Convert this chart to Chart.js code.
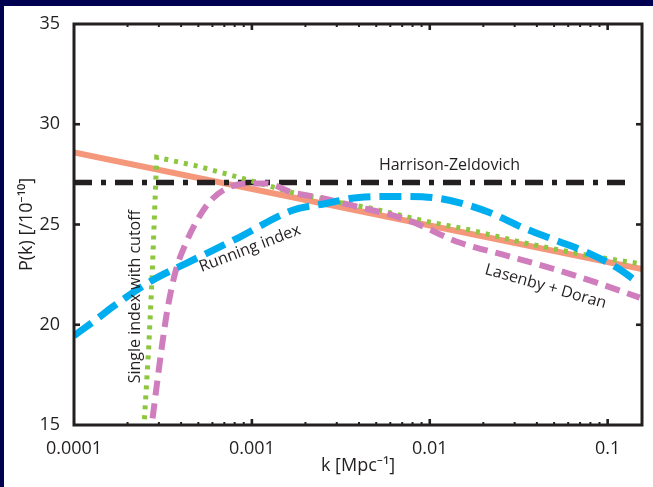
<!DOCTYPE html>
<html><head><meta charset="utf-8">
<script src="https://cdn.jsdelivr.net/npm/chart.js@4/dist/chart.umd.min.js"></script>
<style>html,body{margin:0;padding:0;background:#000050;overflow:hidden}canvas{display:block}</style>
</head><body>
<canvas id="c" width="653" height="487"></canvas>
<script>
// ---- data (k in Mpc^-1, P in 1e-10) ----
const kHZ = [1e-4, 0.14];
const pHZ = [27.1, 27.1];

const kTilt = [1e-4, 0.156];
const pTilt = [28.6, 22.78];

const kCutoff = [2.399e-4, 2.477e-4, 2.63e-4, 2.742e-4, 2.917e-4, 5.012e-4, 8.453e-4, 1.679e-3, 3.097e-3, 4.742e-3, 9.078e-3, 1.738e-2, 3.319e-2, 6.353e-2, 9.863e-2, 0.1514];
const pCutoff = [14.3, 15.0, 18.85, 22.2, 28.35, 27.9, 27.35, 26.6, 26.1, 25.8, 25.2, 24.7, 24.1, 23.6, 23.3, 23.05];

const kLD = [2.661e-4, 2.735e-4, 2.917e-4, 3.112e-4, 3.365e-4, 3.733e-4, 4.198e-4, 4.842e-4, 5.875e-4, 7.413e-4, 9.616e-4, 1.2e-3, 1.679e-3, 2.382e-3, 3.656e-3, 7.362e-3, 1.469e-2, 2.698e-2, 4.898e-2, 8.67e-2, 0.1514];
const pLD = [14.2, 15.0, 16.95, 18.85, 20.85, 22.7, 23.95, 25.1, 26.2, 26.85, 27.05, 27.05, 26.6, 26.35, 25.95, 25.25, 24.1, 23.45, 22.8, 22.1, 21.35];

const kRun = [1.0e-4, 1.374e-4, 1.626e-4, 2.735e-4, 4.246e-4, 8.45e-4, 1.679e-3, 2.612e-3, 4.009e-3, 6.76e-3, 1.132e-2, 2.168e-2, 3.319e-2, 5.164e-2, 7.925e-2, 0.1125, 0.1514];
const pRun = [19.45, 20.35, 20.85, 22.2, 23.05, 24.35, 25.7, 26.05, 26.35, 26.4, 26.3, 25.6, 24.85, 24.2, 23.55, 22.85, 22.05];

const xTickValues = [1e-4, 1e-3, 1e-2, 1e-1];
const xTickLabels = ['0.0001', '0.001', '0.01', '0.1'];
const yTickValues = [15, 20, 25, 30, 35];
const yTickLabels = ['15', '20', '25', '30', '35'];

const curveLabelText = ['Harrison-Zeldovich', 'Running index', 'Lasenby + Doran', 'Single index with cutoff'];
// annotation placement (data coords) and rotation
const curveLabelPlace = [
  {k: 0.0129, p: 27.95, angle: 0},
  {k: 9.75e-4, p: 23.8, angle: -21},
  {k: 0.0448, p: 21.9, angle: 16},
  {k: 2.22e-4, p: 21.4, angle: -90}
];

// ---- styles ----
const ink = '#231f20';
const FAM = "'Open Sans', 'Noto Sans', 'DejaVu Sans', sans-serif";
const pts = (ks, ps) => ks.map((k, i) => ({x: k, y: ps[i]}));

const framePlugin = {
  id: 'frame',
  beforeDraw(chart) {
    const {ctx, width, height} = chart;
    ctx.save();
    ctx.fillStyle = '#000050';
    ctx.fillRect(0, 0, width, height);
    ctx.fillStyle = '#ffffff';
    ctx.fillRect(4, 6, width - 4, height - 6);
    ctx.restore();
  },
  afterDraw(chart) {
    const {ctx, chartArea: a, scales: {x, y}} = chart;
    ctx.save();
    // curve labels
    ctx.fillStyle = ink;
    ctx.font = '16px ' + FAM;
    ctx.textAlign = 'center';
    ctx.textBaseline = 'middle';
    curveLabelText.forEach((t, i) => {
      const pl = curveLabelPlace[i];
      ctx.save();
      ctx.translate(x.getPixelForValue(pl.k), y.getPixelForValue(pl.p));
      ctx.rotate(pl.angle * Math.PI / 180);
      ctx.fillText(t, 0, 0);
      ctx.restore();
    });
    // minor/major ticks on bottom and top (inward)
    const [lo, hi] = [x.min, x.max];
    for (let d = -4; d <= -1; d++) {
      for (let m = 1; m <= 9; m++) {
        const v = m * Math.pow(10, d);
        if (v <= lo * 1.0001 || v > hi) continue;
        const px = x.getPixelForValue(v);
        const major = m === 1;
        const len = major ? 6 : 3, w = major ? 2.6 : 2;
        ctx.fillRect(px - w / 2, a.bottom - len, w, len);
        ctx.fillRect(px - w / 2, a.top, w, len);
      }
    }
    yTickValues.forEach(v => {
      if (v <= y.min || v >= y.max) return;
      const py = y.getPixelForValue(v);
      ctx.fillRect(a.left, py - 1.3, 6, 2.6);
      ctx.fillRect(a.right - 6, py - 1.3, 6, 2.6);
    });
    ctx.strokeStyle = ink;
    ctx.lineWidth = 3;
    ctx.strokeRect(a.left, a.top, a.right - a.left, a.bottom - a.top);
    ctx.restore();
  }
};

new Chart(document.getElementById('c'), {
  type: 'scatter',
  data: {
    datasets: [
      {label: 'Harrison-Zeldovich', data: pts(kHZ, pHZ), showLine: true, borderColor: ink, borderWidth: 5.5, borderDash: [18, 9, 5, 9], borderCapStyle: 'butt', pointRadius: 0, order: 4},
      {label: 'Tilted', data: pts(kTilt, pTilt), showLine: true, borderColor: '#f4977a', borderWidth: 6, pointRadius: 0, order: 5},
      {label: 'Single index with cutoff', data: pts(kCutoff, pCutoff), showLine: true, borderColor: '#8dc63f', borderWidth: 5, borderDash: [4, 6], borderCapStyle: 'butt', pointRadius: 0, tension: 0, order: 3},
      {label: 'Lasenby + Doran', data: pts(kLD, pLD), showLine: true, borderColor: '#cf7dbd', borderWidth: 6, borderDash: [15, 8], borderCapStyle: 'butt', pointRadius: 0, cubicInterpolationMode: 'monotone', order: 2},
      {label: 'Running index', data: pts(kRun, pRun), showLine: true, borderColor: '#00aeef', borderWidth: 7, borderDash: [22, 9], borderCapStyle: 'butt', pointRadius: 0, cubicInterpolationMode: 'monotone', order: 1}
    ]
  },
  options: {
    responsive: false,
    animation: false,
    devicePixelRatio: 1,
    layout: {padding: {left: 0, top: 24, right: 11, bottom: 0}},
    plugins: {legend: {display: false}, tooltip: {enabled: false}},
    scales: {
      x: {
        type: 'logarithmic', min: 1e-4, max: 0.156,
        afterFit(s) { s.height = 62; },
        afterBuildTicks(s) { s.ticks = xTickValues.map(v => ({value: v})); },
        grid: {display: false}, border: {display: false},
        ticks: {autoSkip: false, maxRotation: 0, padding: 5, color: ink, font: {family: FAM, size: 18},
          callback: (v, i) => xTickLabels[i]},
        title: {display: true, text: 'k [Mpc⁻¹]', color: ink, font: {family: FAM, size: 18}, padding: {top: 0, bottom: 10}}
      },
      y: {
        min: 15, max: 35,
        afterFit(s) { s.width = 74; },
        afterBuildTicks(s) { s.ticks = yTickValues.map(v => ({value: v})); },
        grid: {display: false}, border: {display: false},
        ticks: {padding: 6, color: ink, font: {family: FAM, size: 18}, callback: (v, i) => yTickLabels[i]},
        title: {display: true, text: 'P(k) [/10⁻¹⁰]', color: ink, font: {family: FAM, size: 18}, padding: {top: 16, bottom: 0}}
      }
    }
  },
  plugins: [framePlugin]
});
</script>
</body></html>
